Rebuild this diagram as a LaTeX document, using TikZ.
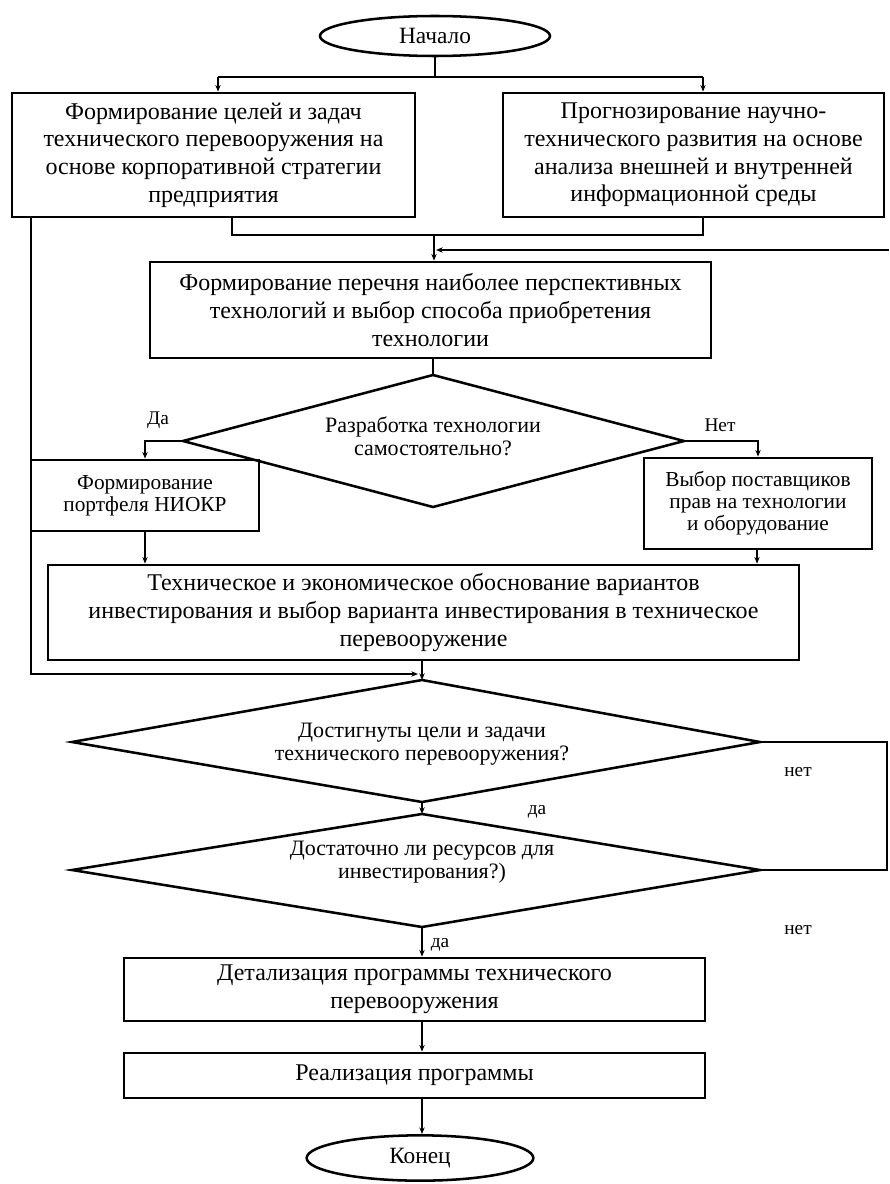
\documentclass[tikz,border=0pt]{standalone}
\usepackage{fontspec}
\setmainfont{Liberation Serif}
\usetikzlibrary{arrows.meta,shapes.geometric}
\begin{document}
\begin{tikzpicture}[x=0.75pt,y=-0.75pt,
  box/.style={draw, line width=2.1pt, rectangle, align=center, inner sep=0pt,
    font=\fontsize{18}{20.8}\selectfont},
  smallbox/.style={box, font=\fontsize{16}{16.5}\selectfont},
  term/.style={draw, line width=1.9pt, ellipse, inner sep=0pt,
    font=\fontsize{17.5}{20.6}\selectfont},
  dtext/.style={align=center, inner sep=0pt, font=\fontsize{16.5}{17.5}\selectfont},
  diam/.style={draw, line width=1.9pt, line join=miter},
  lbl/.style={inner sep=0pt, font=\fontsize{14.5}{16}\selectfont},
  conn/.style={draw, line width=0.9pt},
  arr/.style={conn, -{Stealth[length=5pt,width=4pt]}}
]
\fill[white] (0,0) rectangle (889,1184);
\useasboundingbox (0,0) rectangle (889,1184);

% terminals
\node[term, minimum width=172.5pt, minimum height=30pt] (start) at (435,36) {Начало};
\node[term, minimum width=170pt, minimum height=34pt] (end) at (420,1158) {Конец};

% boxes
\node[box, minimum width=302.25pt, minimum height=93pt] (b1) at (213.5,155)
  {Формирование целей и задач\\технического перевооружения на\\основе корпоративной стратегии\\предприятия};
\node[box, minimum width=285.75pt, minimum height=93pt] (b2) at (693.5,155)
  {Прогнозирование научно-\\технического развития на основе\\анализа внешней и внутренней\\информационной среды};
\node[box, minimum width=420.75pt, minimum height=72pt] (b3) at (430.5,310)
  {Формирование перечня наиболее перспективных\\технологий и выбор способа приобретения\\технологии};
\node[smallbox, minimum width=171pt, minimum height=53.25pt] (b4) at (145,495.5)
  {Формирование\\портфеля НИОКР};
\node[smallbox, minimum width=171pt, minimum height=68.25pt] (b5) at (758,503.5)
  {Выбор поставщиков\\прав на технологии\\и оборудование};
\node[box, minimum width=563.25pt, minimum height=71.25pt] (b6) at (423.5,612.5)
  {Техническое и экономическое обоснование вариантов\\инвестирования и выбор варианта инвестирования в техническое\\перевооружение};
\node[box, minimum width=435.75pt, minimum height=47.25pt] (b7) at (414.5,989.5)
  {Детализация программы технического\\перевооружения};
\node[box, minimum width=435.75pt, minimum height=33.75pt] (b8) at (414.5,1075.5)
  {Реализация программы};

% diamond 1
\coordinate (d1t) at (433,375);
\coordinate (d1l) at (183,441);
\coordinate (d1r) at (684,441);
\coordinate (d1b) at (433,507);
\draw[diam] (d1t) -- (d1r) -- (d1b) -- (d1l) -- cycle;
\node[dtext] (d1) at (433,436) {Разработка технологии\\самостоятельно?};

% diamond 3
\coordinate (d3t) at (422,680);
\coordinate (d3l) at (72,742);
\coordinate (d3r) at (760,742);
\coordinate (d3b) at (422,802);
\draw[diam] (d3t) -- (d3r) -- (d3b) -- (d3l) -- cycle;
\node[dtext] (d3) at (422,744) {Достигнуты цели и задачи\\технического перевооружения?};

% diamond 4
\coordinate (d4t) at (422,814);
\coordinate (d4l) at (72,870);
\coordinate (d4r) at (760,870);
\coordinate (d4b) at (422,927);
\draw[diam] (d4t) -- (d4r) -- (d4b) -- (d4l) -- cycle;
\node[dtext] (d4) at (422,862) {Достаточно ли ресурсов для\\инвестирования?)};

% labels
\node[lbl] (lda1) at (158,420) {Да};
\node[lbl] (lnet1) at (720,425) {Нет};
\node[lbl] (lnet2) at (798,772) {нет};
\node[lbl] (lda2) at (537,812) {да};
\node[lbl] (lnet3) at (798,930) {нет};
\node[lbl] (lda3) at (440,945) {да};

% split from start
\coordinate (split) at (435,77);
\coordinate (sl) at (218,77);
\coordinate (sr) at (703,77);
\draw[conn] (start.south) -- (split);
\draw[conn] (sl) -- (sr);
\draw[arr] (sl) -- (sl |- b1.north);
\draw[arr] (sr) -- (sr |- b2.north);

% merge into b3
\coordinate (ml) at (232,235);
\coordinate (mr) at (703,235);
\coordinate (mm) at (434,235);
\draw[conn] (ml |- b1.south) -- (ml) -- (mr) -- (mr |- b2.south);
\draw[arr] (mm) -- (mm |- b3.north);

% feedback from right edge
\coordinate (fb) at (889,250);
\draw[arr] (fb) -- ([xshift=1.5pt]fb -| mm);

% b3 to diamond 1
\draw[conn] (d1t |- b3.south) -- (d1t);

% branches
\draw[arr] (d1l) -| (b4.north);
\draw[arr] (d1r) -| (b5.north);
\draw[arr] (b4.south) -- (b4.south |- b6.north);
\draw[arr] (b5.south -| 757,0) -- (757,0 |- b6.north);

% b6 to diamond 3, left loop
\draw[arr] (b6.south -| d3t) -- (d3t);
\coordinate (ll) at (31,674);
\draw[arr] (b1.south -| ll) -- (ll) -- ([xshift=-3pt]ll -| d3t);

% diamond 3 to diamond 4
\draw[arr] (d3b) -- (d4t);
\coordinate (lr1) at (887,742);
\coordinate (lr2) at (887,870);
\draw[conn] (d3r) -- (lr1) -- (lr2) -- (d4r);

% bottom chain
\draw[arr] (d4b) -- (d4b |- b7.north);
\draw[arr] (b7.south -| d4b) -- (d4b |- b8.north);
\draw[arr] (b8.south -| d4b) -- (d4b |- end.north);
\end{tikzpicture}
\end{document}
